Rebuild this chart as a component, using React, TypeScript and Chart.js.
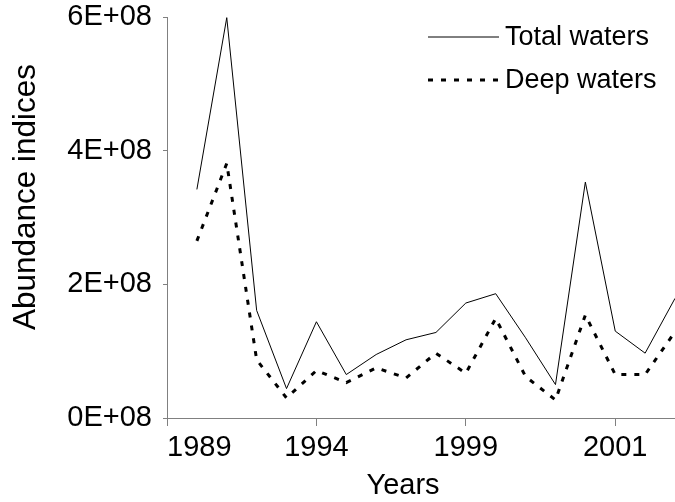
import React, { useEffect, useRef } from "react";
import { Chart, registerables } from "chart.js";

Chart.register(...registerables);

// Years of the survey (point i sits at x = i + 1 on the axis)
const years = [
  "1990", "1991", "1992", "1993", "1994", "1995", "1996", "1997", "1998",
  "1999", "2000", "2001", "2002", "2003", "2004", "2005", "2006",
];
const totalWaters = [
  342e6, 599e6, 161e6, 44e6, 144e6, 65e6, 95e6, 117e6, 128e6,
  172e6, 186e6, 120e6, 50e6, 353e6, 130e6, 97e6, 179e6,
];
const deepWaters = [
  265e6, 381e6, 87e6, 30e6, 71e6, 53e6, 75e6, 60e6, 97e6,
  67e6, 149e6, 62e6, 27e6, 154e6, 65e6, 65e6, 129e6,
];
const xTickPositions = [0, 5, 10, 15, 17];
const xTickLabels = ["1989", "1994", "1999", "2001", ""];
const yTickLabels = ["0E+08", "2E+08", "4E+08", "6E+08"];
const seriesLabels = ["Total waters", "Deep waters"];
const xTitle = "Years";
const yTitle = "Abundance indices";

const FONT = "'Liberation Sans', Arial, sans-serif";

const overlayPlugin = {
  id: "overlay",
  afterDraw(chart: any) {
    const ctx = chart.ctx;
    ctx.save();
    // legend
    const legendYs = [37, 80];
    chart.data.datasets.forEach((ds: any, i: number) => {
      const y = legendYs[i];
      ctx.beginPath();
      ctx.strokeStyle = ds.borderColor;
      ctx.lineWidth = ds.borderWidth;
      ctx.setLineDash(ds.borderDash || []);
      ctx.moveTo(428, y);
      ctx.lineTo(499, y);
      ctx.stroke();
      ctx.setLineDash([]);
      ctx.fillStyle = "#000";
      ctx.font = `27px ${FONT}`;
      ctx.textAlign = "left";
      ctx.textBaseline = "middle";
      ctx.fillText(ds.label, 505, y + 1);
    });
    // axis titles
    ctx.fillStyle = "#000";
    ctx.font = `29px ${FONT}`;
    ctx.textAlign = "center";
    ctx.textBaseline = "middle";
    ctx.fillText(xTitle, 403, 486);
    ctx.translate(26, 197);
    ctx.rotate(-Math.PI / 2);
    ctx.font = `31.5px ${FONT}`;
    ctx.fillText(yTitle, 0, 0);
    ctx.restore();
  },
};

export default function App() {
  const ref = useRef<HTMLCanvasElement | null>(null);
  useEffect(() => {
    if (!ref.current) return;
    const chart = new Chart(ref.current, {
      type: "line",
      data: {
        datasets: [
          {
            label: seriesLabels[0],
            data: totalWaters.map((v, i) => ({ x: i + 1, y: v })),
            borderColor: "#000",
            borderWidth: 1,
            pointRadius: 0,
            tension: 0,
            fill: false,
          },
          {
            label: seriesLabels[1],
            data: deepWaters.map((v, i) => ({ x: i + 1, y: v })),
            borderColor: "#000",
            borderWidth: 3,
            borderDash: [5, 8],
            pointRadius: 0,
            tension: 0,
            fill: false,
          },
        ],
      },
      options: {
        animation: false,
        responsive: false,
        maintainAspectRatio: false,
        layout: { padding: { top: 17, right: 0, left: 0, bottom: 0 } },
        plugins: {
          legend: { display: false },
          tooltip: { enabled: false },
        },
        scales: {
          x: {
            type: "linear",
            min: 0,
            max: years.length,
            afterBuildTicks: (scale: any) => {
              scale.ticks = xTickPositions.map((v) => ({ value: v }));
            },
            afterFit: (scale: any) => {
              scale.height = 84;
              scale.paddingLeft = 0;
              scale.paddingRight = 0;
            },
            border: { display: true, color: "#808080", width: 1 },
            grid: {
              display: true,
              drawOnChartArea: false,
              drawTicks: true,
              tickLength: 8,
              color: (c: any) => (c.index === xTickPositions.length - 1 ? "rgba(0,0,0,0)" : "#808080"),
            },
            ticks: {
              color: "#000",
              font: { family: FONT, size: 29 },
              padding: 5,
              align: "inner",
              maxRotation: 0,
              autoSkip: false,
              callback: (v: any) => {
                const idx = xTickPositions.indexOf(Number(v));
                return idx >= 0 ? xTickLabels[idx] : "";
              },
            },
          },
          y: {
            min: 0,
            max: 6e8,
            afterBuildTicks: (scale: any) => {
              scale.ticks = yTickLabels.map((_, i) => ({ value: i * 2e8 }));
            },
            afterFit: (scale: any) => {
              scale.width = 167;
              scale.paddingTop = 0;
              scale.paddingBottom = 0;
            },
            border: { display: true, color: "#808080", width: 1 },
            grid: {
              display: true,
              drawOnChartArea: false,
              drawTicks: true,
              tickLength: 4,
              color: "#808080",
            },
            ticks: {
              color: "#000",
              font: { family: FONT, size: 29 },
              padding: 11,
              callback: (v: any) => yTickLabels[Math.round(Number(v) / 2e8)],
            },
          },
        },
      },
      plugins: [overlayPlugin],
    });
    return () => chart.destroy();
  }, []);
  return (
    <div style={{ position: "fixed", left: 0, top: 0, width: 675, height: 502, background: "#fff" }}>
      <canvas ref={ref} width={675} height={502} style={{ display: "block" }} />
    </div>
  );
}
